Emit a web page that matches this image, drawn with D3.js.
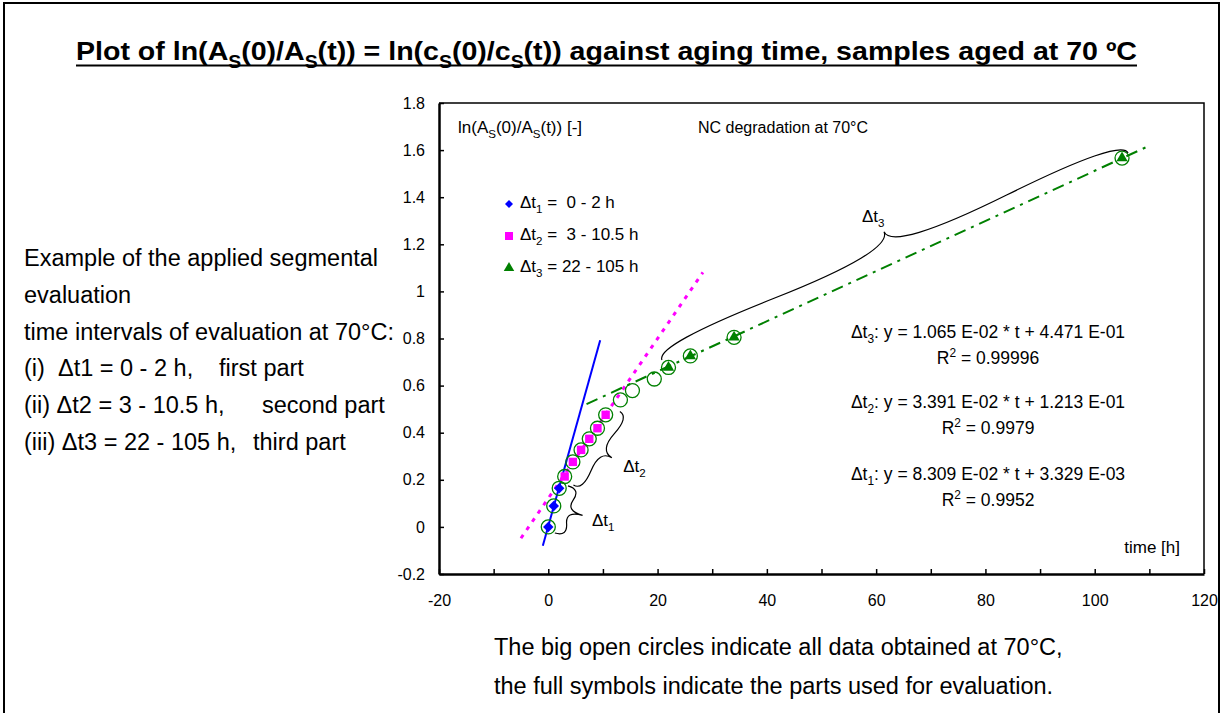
<!DOCTYPE html>
<html>
<head>
<meta charset="utf-8">
<script src="https://cdn.jsdelivr.net/npm/d3@7"></script>
<style>
  body { margin: 0; background: #fff; }
  svg text { font-family: "Liberation Sans", Arial, sans-serif; fill: #000; white-space: pre; }
</style>
</head>
<body>
<svg id="chart" width="1223" height="713"></svg>
<script>
// all measured points (open circles), time in h
const timeAll = [0, 1, 2, 3, 4.5, 6, 7.5, 9, 10.5, 13.2, 15.4, 19.4, 22, 26, 34, 105];
const lnAll   = [0.0, 0.089, 0.164, 0.214, 0.276, 0.327, 0.374, 0.419, 0.476, 0.539, 0.579, 0.628, 0.677, 0.726, 0.805, 1.566];

// parts used for evaluation
const seg1Time = [0, 1, 2];
const seg1Ln   = [0.0, 0.089, 0.164];
const seg2Time = [3, 4.5, 6, 7.5, 9, 10.5];
const seg2Ln   = [0.214, 0.276, 0.327, 0.374, 0.419, 0.476];
const seg3Time = [22, 26, 34, 105];
const seg3Ln   = [0.677, 0.726, 0.805, 1.566];

// linear fits (from the chart)
const fitSlope     = [8.309e-2, 3.391e-2, 1.065e-2];
const fitIntercept = [3.329e-3, 1.213e-1, 4.471e-1];
const rSquared     = ["0.9952", "0.9979", "0.99996"];
const fitFrom      = [-1, -5, 7];
const fitTo        = [9.5, 28.3, 110];

const legendRanges = ["=  0 - 2 h", "=  3 - 10.5 h", "= 22 - 105 h"];

// axis ticks
const xTicks      = [-20, -10, 0, 10, 20, 30, 40, 50, 60, 70, 80, 90, 100, 110, 120];
const xTickLabels = ["-20", "", "0", "", "20", "", "40", "", "60", "", "80", "", "100", "", "120"];
const yTicks      = [-0.2, 0, 0.2, 0.4, 0.6, 0.8, 1, 1.2, 1.4, 1.6, 1.8];
const yTickLabels = ["-0.2", "0", "0.2", "0.4", "0.6", "0.8", "1", "1.2", "1.4", "1.6", "1.8"];

// braces: [t, ln] of both ends
const braceFrom = [[1.2, -0.026], [4.6, 0.178], [106.1, 1.588]];
const braceTo   = [[3.6, 0.174], [13.1, 0.49], [20.8, 0.709]];
const braceLabelAt = [[8.0, 0.004], [13.7, 0.234], [57.4, 1.295]];

const svg = d3.select("#chart");

const x = d3.scaleLinear().domain([-20, 120]).range([439, 1204]);
const y = d3.scaleLinear().domain([-0.2, 1.8]).range([574, 103]);

// text with sub / superscripts, parts = ["txt", ["S","sub"], ...]
function rich(sel, parts, size) {
  let off = 0;
  parts.forEach(p => {
    const s = typeof p === "string" ? p : p[0];
    const mode = typeof p === "string" ? null : p[1];
    const target = mode === "sub" ? 0.3 * size : mode === "sup" ? -0.4 * size : 0;
    const t = sel.append("tspan").attr("dy", target - off).text(s);
    if (mode) t.style("font-size", (0.68 * size) + "px");
    off = target;
  });
  return sel;
}

function bracePath(x1, y1, x2, y2, w, q) {
  let dx = x1 - x2, dy = y1 - y2;
  const len = Math.hypot(dx, dy);
  dx /= len; dy /= len;
  const qx1 = x1 + q * w * dy, qy1 = y1 - q * w * dx;
  const qx2 = (x1 - 0.25 * len * dx) + (1 - q) * w * dy, qy2 = (y1 - 0.25 * len * dy) - (1 - q) * w * dx;
  const tx1 = (x1 - 0.5 * len * dx) + w * dy, ty1 = (y1 - 0.5 * len * dy) - w * dx;
  const qx3 = x2 + q * w * dy, qy3 = y2 - q * w * dx;
  const qx4 = (x1 - 0.75 * len * dx) + (1 - q) * w * dy, qy4 = (y1 - 0.75 * len * dy) - (1 - q) * w * dx;
  return `M${x1},${y1}Q${qx1},${qy1} ${qx2},${qy2}T${tx1},${ty1}M${x2},${y2}Q${qx3},${qy3} ${qx4},${qy4}T${tx1},${ty1}`;
}

function fmtE(v) {
  const [m, e] = v.toExponential(3).split("e");
  const n = +e;
  return `${m} E${n < 0 ? "-" : "+"}${String(Math.abs(n)).padStart(2, "0")}`;
}

// outer frame
svg.append("rect")
  .attr("x", 4).attr("y", 3).attr("width", 1215).attr("height", 730)
  .attr("fill", "none").attr("stroke", "#000").attr("stroke-width", 2);

// title
const title = svg.append("text")
  .attr("x", 76).attr("y", 60)
  .style("font-family", "'Liberation Sans Narrow', 'Arial Narrow', 'Liberation Sans', sans-serif")
  .style("font-weight", "bold").style("font-size", "26px")
  .attr("textLength", 1061).attr("lengthAdjust", "spacingAndGlyphs");
rich(title, ["Plot of ln(A", ["S", "sub"], "(0)/A", ["S", "sub"], "(t)) = ln(c", ["S", "sub"], "(0)/c", ["S", "sub"],
  "(t)) against aging time, samples aged at 70 ºC"], 26);
svg.append("line")
  .attr("x1", 76).attr("x2", 1137).attr("y1", 65.5).attr("y2", 65.5)
  .attr("stroke", "#000").attr("stroke-width", 2);

// plot frame (top / right)
svg.append("path")
  .attr("d", `M${x(-20)},${y(1.8)}H${x(120)}V${y(-0.2)}`)
  .attr("fill", "none").attr("stroke", "#000").attr("stroke-width", 1.5);

// axes
const xAxis = svg.append("g")
  .attr("transform", `translate(0,${y(-0.2)})`)
  .call(d3.axisBottom(x).tickValues(xTicks).tickSizeInner(-5).tickSizeOuter(0).tickPadding(21)
    .tickFormat((d, i) => xTickLabels[i]));
const yAxis = svg.append("g")
  .attr("transform", `translate(${x(-20)},0)`)
  .call(d3.axisLeft(y).tickValues(yTicks).tickSizeInner(-5).tickSizeOuter(0).tickPadding(14)
    .tickFormat((d, i) => yTickLabels[i]));
[xAxis, yAxis].forEach(a => {
  a.attr("font-family", null).attr("font-size", null);
  a.select(".domain").attr("stroke-width", 2.5);
  a.selectAll(".tick line").attr("stroke-width", 1.5);
  a.selectAll(".tick text").style("font-size", "16px");
});

// fit lines
const lineGen = d3.line().x(d => x(d[0])).y(d => y(d[1]));
const fitStyle = [
  { color: "#0000FF", width: 2, dash: null },
  { color: "#FF00FF", width: 3, dash: "4,6" },
  { color: "#008000", width: 2, dash: "12,6,3,6" }
];
fitSlope.forEach((s, i) => {
  const pts = [fitFrom[i], fitTo[i]].map(t => [t, s * t + fitIntercept[i]]);
  svg.append("path")
    .attr("d", lineGen(pts))
    .attr("fill", "none")
    .attr("stroke", fitStyle[i].color)
    .attr("stroke-width", fitStyle[i].width)
    .attr("stroke-dasharray", fitStyle[i].dash);
});

// all data: big open circles
svg.append("g").selectAll("circle")
  .data(timeAll.map((t, i) => [t, lnAll[i]]))
  .enter().append("circle")
  .attr("cx", d => x(d[0])).attr("cy", d => y(d[1])).attr("r", 7)
  .attr("fill", "none").attr("stroke", "#008000").attr("stroke-width", 1.3);

// evaluated parts: filled symbols
function drawSymbols(times, vals, type, size, color, rot) {
  svg.append("g").selectAll("path")
    .data(times.map((t, i) => [t, vals[i]]))
    .enter().append("path")
    .attr("d", d3.symbol().type(type).size(size))
    .attr("transform", d => `translate(${x(d[0])},${y(d[1])}) rotate(${rot})`)
    .attr("fill", color);
}
drawSymbols(seg1Time, seg1Ln, d3.symbolSquare, 55, "#0000FF", 45);
drawSymbols(seg2Time, seg2Ln, d3.symbolSquare, 70, "#FF00FF", 0);
drawSymbols(seg3Time, seg3Ln, d3.symbolTriangle, 55, "#008000", 0);

// braces
braceFrom.forEach((p, i) => {
  const q = braceTo[i];
  const w = [22, 18, 27][i];
  svg.append("path")
    .attr("d", bracePath(x(p[0]), y(p[1]), x(q[0]), y(q[1]), w, 0.6))
    .attr("fill", "none").attr("stroke", "#000").attr("stroke-width", 1.2);
  rich(svg.append("text").attr("x", x(braceLabelAt[i][0])).attr("y", y(braceLabelAt[i][1]))
    .style("font-size", "17px"), ["Δt", [String(i + 1), "sub"]], 17);
});

// in-plot labels
rich(svg.append("text").attr("x", 458).attr("y", 133).style("font-size", "17px"),
  ["ln(A", ["S", "sub"], "(0)/A", ["S", "sub"], "(t)) [-]"], 17);
svg.append("text").attr("x", 698).attr("y", 133).style("font-size", "16px").text("NC degradation at 70°C");
svg.append("text").attr("x", 1180).attr("y", 553).attr("text-anchor", "end").style("font-size", "17px").text("time [h]");

// legend
const legend = svg.append("g").attr("transform", "translate(509,204)");
const legendSym = [
  { type: d3.symbolSquare, size: 32, color: "#0000FF", rot: 45 },
  { type: d3.symbolSquare, size: 64, color: "#FF00FF", rot: 0 },
  { type: d3.symbolTriangle, size: 48, color: "#008000", rot: 0 }
];
legendRanges.forEach((r, i) => {
  const g = legend.append("g").attr("transform", `translate(0,${i * 32})`);
  g.append("path")
    .attr("d", d3.symbol().type(legendSym[i].type).size(legendSym[i].size))
    .attr("transform", `rotate(${legendSym[i].rot})`)
    .attr("fill", legendSym[i].color);
  rich(g.append("text").attr("x", 11).attr("y", 4).style("font-size", "17px"),
    ["Δt", [String(i + 1), "sub"], " " + r], 17);
});

// fit equations
const eqCenter = 988;
const eqBase = [480, 408, 338];
fitSlope.forEach((s, i) => {
  rich(svg.append("text").attr("x", eqCenter).attr("y", eqBase[i]).attr("text-anchor", "middle").style("font-size", "17.5px"),
    ["Δt", [String(i + 1), "sub"], `: y = ${fmtE(s)} * t + ${fmtE(fitIntercept[i])}`], 17.5);
  rich(svg.append("text").attr("x", eqCenter).attr("y", eqBase[i] + 26).attr("text-anchor", "middle").style("font-size", "17.5px"),
    ["R", ["2", "sup"], " = " + rSquared[i]], 17.5);
});

// left explanatory text
const leftLines = [
  ["Example of the applied segmental"],
  ["evaluation"],
  ["time intervals of evaluation at 70°C:"],
  ["(i)  Δt1 = 0 - 2 h,", "first part"],
  ["(ii) Δt2 = 3 - 10.5 h,", "second part"],
  ["(iii) Δt3 = 22 - 105 h,", "third part"]
];
const leftSecondX = [0, 0, 0, 219, 262, 253];
leftLines.forEach((ln, i) => {
  const t = svg.append("text").attr("x", 24).attr("y", 266 + i * 36.8).style("font-size", "23.5px");
  t.append("tspan").text(ln[0]);
  if (ln[1]) t.append("tspan").attr("x", leftSecondX[i]).text(ln[1]);
});

// bottom note
svg.append("text").attr("x", 494).attr("y", 655).style("font-size", "23.5px")
  .text("The big open circles indicate all data obtained at 70°C,");
svg.append("text").attr("x", 494).attr("y", 694).style("font-size", "23.5px")
  .text("the full symbols indicate the parts used for evaluation.");
</script>
</body>
</html>
